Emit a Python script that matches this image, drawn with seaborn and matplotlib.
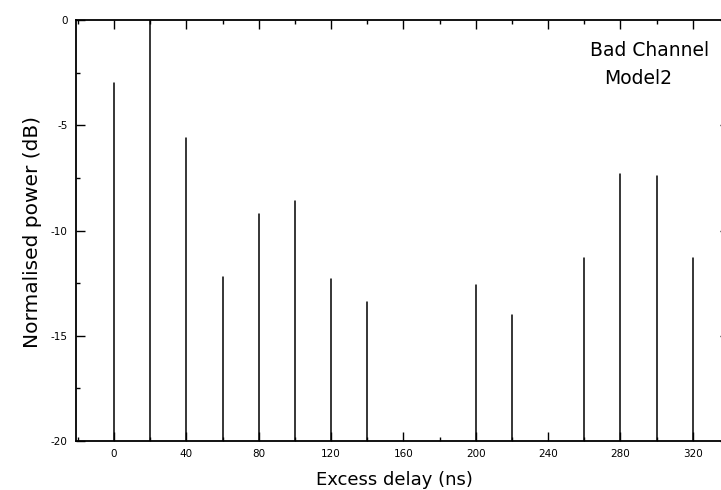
'''power delay profile, bad channel model 2'''
import numpy as np
import pandas as pd
import seaborn as sns
import matplotlib
matplotlib.use('Agg')
import matplotlib.pyplot as plt
from matplotlib import ticker

#region data
DELAY_NS = [0, 20, 40, 60, 80, 100, 120, 140, 200, 220, 260, 280, 300, 320]
POWER_DB = [-3.0, 0.0, -5.6, -12.2, -9.2, -8.6, -12.3, -13.4, -12.6, -14.0,
            -11.3, -7.3, -7.4, -11.3]
FLOOR_DB = -20
X_TICKS = [0, 40, 80, 120, 160, 200, 240, 280, 320]
Y_TICKS = [0, -5, -10, -15, -20]
#endregion

# each tap is a vertical line from the floor up to its power
rows = []
for d, p in zip(DELAY_NS, POWER_DB):
    rows.append({'tap': d, 'delay': d, 'power': FLOOR_DB})
    rows.append({'tap': d, 'delay': d, 'power': p})
df = pd.DataFrame(rows)

sns.set_style('ticks')
plt.rcParams['font.family'] = ['DejaVu Sans']
plt.rcParams['axes.unicode_minus'] = False
plt.rcParams['text.color'] = 'black'
plt.rcParams['axes.labelcolor'] = 'black'
plt.rcParams['xtick.color'] = 'black'
plt.rcParams['ytick.color'] = 'black'

fig = plt.figure(figsize=(7.21, 4.90), dpi=100)
ax = fig.add_axes([76 / 721, 1 - 441 / 490, (729 - 76) / 721, (441 - 20) / 490])

sns.lineplot(data=df, x='delay', y='power', units='tap', estimator=None,
             sort=False, color='black', lw=1.1, ax=ax, legend=False)

ax.set_xlim(-21, 340)
ax.set_ylim(-20, 0)
ax.set_xticks(X_TICKS)
ax.set_yticks(Y_TICKS)
ax.xaxis.set_minor_locator(ticker.MultipleLocator(20))
ax.yaxis.set_minor_locator(ticker.MultipleLocator(2.5))

for s in ax.spines.values():
    s.set_visible(True)
    s.set_linewidth(1.3)
    s.set_color('black')

ax.tick_params(which='both', direction='in', top=True, right=True,
               labelsize=7.5, width=1.0, color='black', labelcolor='black')
ax.tick_params(which='major', length=6.5, pad=6)
ax.tick_params(which='minor', length=3.2)

ax.set_xlabel('Excess delay (ns)', fontsize=13)
ax.set_ylabel('Normalised power (dB)', fontsize=14.5)
ax.xaxis.set_label_coords(0.487, -0.071)
ax.yaxis.set_label_coords(-0.052, 0.496)

fig.text(650 / 721, 1 - 50 / 490, 'Bad Channel', fontsize=13.5,
         ha='center', va='center')
fig.text(638 / 721, 1 - 79 / 490, 'Model2', fontsize=13.5,
         ha='center', va='center')

plt.savefig('out.png', dpi=100)
